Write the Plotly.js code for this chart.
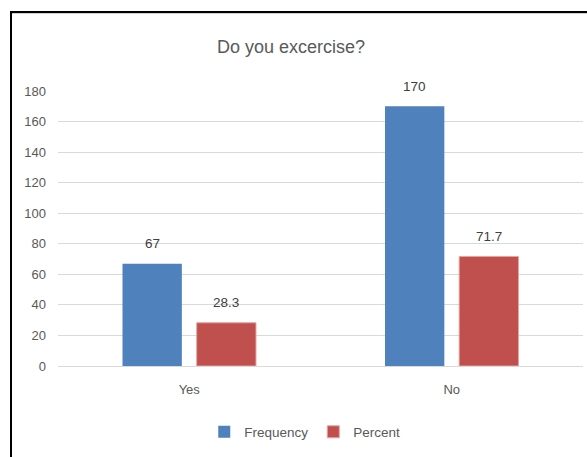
<!DOCTYPE html>
<html>
<head>
<meta charset="utf-8">
<script src="https://cdn.plot.ly/plotly-3.0.1.min.js"></script>
<style>
  html, body { margin: 0; padding: 0; background: #fff; overflow: hidden; }
  #wrap { position: relative; width: 587px; height: 457px; }
  #chart { position: absolute; left: 0; top: 0; width: 587px; height: 457px; }
  #frame { position: absolute; left: 10px; top: 11px; width: 620px; height: 500px;
           border-left: 2px solid #000; border-top: 2px solid #000; pointer-events: none;
           box-shadow: inset 0 1px 0 #cfcfcf; }
</style>
</head>
<body>
<div id="wrap">
  <div id="chart"></div>
  <div id="frame"></div>
</div>
<script>
const categories = ["Yes", "No"];
const frequency = [67, 170];
const percent = [28.3, 71.7];
const seriesNames = ["Frequency", "Percent"];
const yTicks = [0, 20, 40, 60, 80, 100, 120, 140, 160, 180];

const FONT = "Liberation Sans, Arial, sans-serif";

const traces = [
  { type: "bar", name: seriesNames[0], x: categories, y: frequency,
    marker: { color: "#4f81bd" }, hoverinfo: "none" },
  { type: "bar", name: seriesNames[1], x: categories, y: percent,
    marker: { color: "#c0504d", line: { color: "#e4a4a2", width: 1 } }, hoverinfo: "none" }
];

const annotations = [];
[frequency, percent].forEach((vals, si) => {
  vals.forEach((v, i) => {
    annotations.push({
      x: categories[i], y: v, xref: "x", yref: "y",
      text: String(v), showarrow: false,
      xshift: si === 0 ? -37 : 37, yshift: 20, yanchor: "middle",
      font: { family: FONT, size: 13.5, color: "#404040" }
    });
  });
});

const layout = {
  width: 587, height: 457,
  margin: { l: 58, r: 4, t: 91, b: 91 },
  paper_bgcolor: "#fff", plot_bgcolor: "#fff",
  title: { text: "Do you excercise?", x: 0.444, xanchor: "center", xref: "paper",
           y: 1 - 47 / 457, yanchor: "middle",
           font: { family: FONT, size: 18, color: "#595959" } },
  barmode: "group", bargap: 0.435, bargroupgap: 0.2,
  xaxis: { type: "category", showgrid: false, zeroline: false, showline: false,
           ticks: "", tickfont: { family: FONT, size: 13, color: "#595959" },
           ticklabelstandoff: 14 },
  yaxis: { range: [0, 180], tickvals: yTicks, ticktext: yTicks.map(String),
           showgrid: true, gridcolor: "#d9d9d9", gridwidth: 1,
           zeroline: true, zerolinecolor: "#d9d9d9", zerolinewidth: 1,
           showline: false, ticks: "", ticklabelstandoff: 11,
           tickfont: { family: FONT, size: 13, color: "#595959" } },
  showlegend: true,
  legend: { orientation: "h", x: 0.47, xanchor: "center", y: -0.24, yanchor: "middle",
            font: { family: FONT, size: 13.5, color: "#595959" },
            itemwidth: 30, tracegroupgap: 0, traceorder: "normal" },
  annotations: annotations
};

Plotly.newPlot("chart", traces, layout, { staticPlot: true, displayModeBar: false });
</script>
</body>
</html>
